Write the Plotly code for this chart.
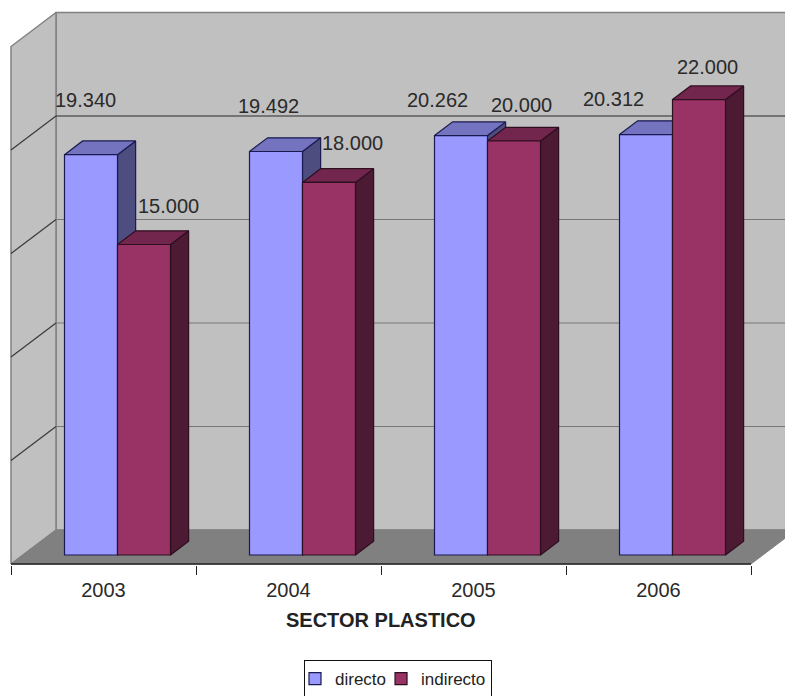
import plotly.graph_objects as go

years = ["2003", "2004", "2005", "2006"]
directo = [19340, 19492, 20262, 20312]
indirecto = [15000, 18000, 20000, 22000]
grid_values = [5000, 10000, 15000, 20000, 25000]

W, H = 785, 696
CAT_PX = 185.0          # width of one category
AXIS_LEFT_PX = 11.0
AXIS_PX = 565.0         # bottom edge of the plotting area
ZERO_PX = 555.0         # where value 0 sits on the plane of the bar fronts
V_PX = 0.0207           # pixels per unit of value

# Oblique projection: moving one full chart depth shifts right and up
DX = 45.0 / CAT_PX
DY = 34.0 / V_PX
BAR_DEPTH = 13.7 / 34.0
FLOOR_FRONT = -9.0 / V_PX
GROUP_SHIFT = 14.0 / CAT_PX
BAR_W = 53.0 / CAT_PX

BLUE = dict(front="#9999FF", top="#7373BF", side="#4D4D80", edge="#1A1A50")
WINE = dict(front="#993366", top="#73264D", side="#4D1A33", edge="#2E0F20")
FONT = "Liberation Sans, Arial, sans-serif"

x_range = [-AXIS_LEFT_PX / CAT_PX, (W - AXIS_LEFT_PX) / CAT_PX]
y_range = [(ZERO_PX - AXIS_PX) / V_PX, ZERO_PX / V_PX]


def at(x, v, d):
    return x + d * DX, v + d * DY


def polygon(points, fill, edge, width=1.0, zorder=1):
    xs, ys = zip(*(points + points[:1]))
    return go.Scatter(x=xs, y=ys, mode="lines", fill="toself", fillcolor=fill,
                      line=dict(color=edge, width=width), showlegend=False,
                      hoverinfo="skip", zorder=zorder)


def polyline(points, color, width=1.0, zorder=1, clip=True):
    xs, ys = zip(*points)
    return go.Scatter(x=xs, y=ys, mode="lines", line=dict(color=color, width=width),
                      showlegend=False, hoverinfo="skip", zorder=zorder,
                      cliponaxis=clip)


def depth_faces(left, value, colors):
    right = left + BAR_W
    top = [at(left, value, 0), at(left, value, BAR_DEPTH),
           at(right, value, BAR_DEPTH), at(right, value, 0)]
    side = [at(right, 0, 0), at(right, 0, BAR_DEPTH),
            at(right, value, BAR_DEPTH), at(right, value, 0)]
    return [polygon(side, colors["side"], colors["edge"], 1.2, zorder=3),
            polygon(top, colors["top"], colors["edge"], 1.2, zorder=3)]


fig = go.Figure()

# Walls and floor; the back wall runs on past the right edge of the page
wall_top = 25000 + FLOOR_FRONT
fig.add_trace(polygon([at(0, FLOOR_FRONT, 1), at(4.2, FLOOR_FRONT, 1),
                       at(4.2, wall_top, 1), at(0, wall_top, 1)],
                      "#C0C0C0", "#808080", 1.5, zorder=0))
fig.add_trace(polygon([at(0, FLOOR_FRONT, 0), at(0, FLOOR_FRONT, 1),
                       at(0, wall_top, 1), at(0, wall_top, 0)],
                      "#C0C0C0", "#808080", 1.5, zorder=0))
fig.add_trace(polygon([at(0, FLOOR_FRONT, 0), at(4, FLOOR_FRONT, 0),
                       at(4, FLOOR_FRONT, 1), at(0, FLOOR_FRONT, 1)],
                      "#808080", "#808080", 1, zorder=1))

# Gridlines run along the left wall and across the back wall
for g in grid_values[:-1]:
    v = g + FLOOR_FRONT
    back = "#2B2B2B" if g == 20000 else "#777777"
    fig.add_trace(polyline([at(0, v, 0), at(0, v, 1)], "#3A3A3A", 1.2, zorder=1))
    fig.add_trace(polyline([at(0, v, 1), at(4.2, v, 1)], back, 1.2, zorder=1))

centers = [i + 0.5 + GROUP_SHIFT for i in range(len(years))]

# Depth faces: first series behind the second one
for c, v in zip(centers, directo):
    for face in depth_faces(c - BAR_W, v, BLUE):
        fig.add_trace(face)
for c, v in zip(centers, indirecto):
    for face in depth_faces(c, v, WINE):
        fig.add_trace(face)

fig.add_trace(go.Bar(x=centers, y=directo, width=BAR_W, offset=-BAR_W, name="directo",
                     marker=dict(color=BLUE["front"], line=dict(color=BLUE["edge"], width=1.2)),
                     zorder=4, hoverinfo="skip"))
fig.add_trace(go.Bar(x=centers, y=indirecto, width=BAR_W, offset=0, name="indirecto",
                     marker=dict(color=WINE["front"], line=dict(color=WINE["edge"], width=1.2)),
                     zorder=4, hoverinfo="skip"))

# Front edge of the category axis
fig.add_trace(polyline([(0, FLOOR_FRONT), (4, FLOOR_FRONT)], "#222222", 1.4, zorder=5, clip=False))

# Data labels, nudged clear of the bars
label_font = dict(family=FONT, size=20, color="#2A2A2A")
directo_nudge = [(-6, 55), (-8, 46), (-24, 36), (-33, 36)]
indirecto_nudge = [(24, 39), (23, 39), (7, 36), (8, 33)]
for values, nudges, shift in ((directo, directo_nudge, -BAR_W / 2), (indirecto, indirecto_nudge, BAR_W / 2)):
    for c, v, (nx, ny) in zip(centers, values, nudges):
        fig.add_annotation(x=c + shift, y=v, text=f"{v:,}".replace(",", "."),
                           xshift=nx, yshift=ny, showarrow=False, font=label_font)

# Axis caption, centred under the four categories
fig.add_annotation(x=2, xref="x", y=-(620 - AXIS_PX) / AXIS_PX, yref="paper", yanchor="middle",
                   text="<b>SECTOR PLASTICO</b>", showarrow=False,
                   font=dict(family=FONT, size=20, color="#222222"))

fig.update_layout(
    width=W, height=H, autosize=False,
    margin=dict(l=0, r=0, t=0, b=H - AXIS_PX, pad=0, autoexpand=False),
    paper_bgcolor="white", plot_bgcolor="white",
    barmode="overlay",
    showlegend=True,
    legend=dict(orientation="h", xanchor="center", x=398 / W, yanchor="top",
                y=-(660 - AXIS_PX) / AXIS_PX, bordercolor="#111111", borderwidth=1,
                bgcolor="white", font=dict(family=FONT, size=17, color="#222222"),
                itemwidth=30, indentation=-10, traceorder="normal"),
    xaxis=dict(range=x_range, tickmode="array", tickvals=[i + 0.5 for i in range(4)], ticktext=years,
               ticks="", showgrid=False, zeroline=False, showline=False,
               ticklabelstandoff=11,
               tickfont=dict(family=FONT, size=20, color="#2A2A2A"),
               minor=dict(tickmode="array", tickvals=[0, 1, 2, 3, 4], ticks="outside", ticklen=9,
                          tickcolor="#222222", tickwidth=1.2, showgrid=False)),
    yaxis=dict(range=y_range, visible=False, showgrid=False, zeroline=False),
)

fig.write_html("out.html", config=dict(displayModeBar=False))
